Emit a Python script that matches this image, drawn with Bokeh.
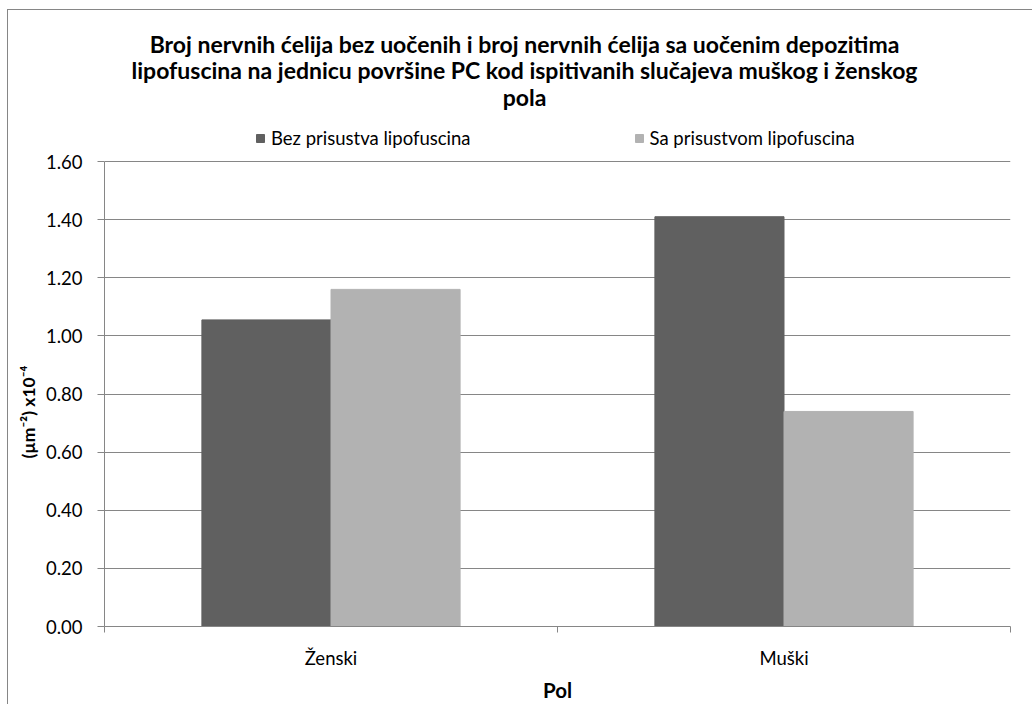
from bokeh.plotting import figure
from bokeh.models import (Range1d, FixedTicker, Legend, LegendItem, Label, Title,
                          ColumnDataSource, NumeralTickFormatter)
from bokeh.embed import file_html
from bokeh.resources import INLINE

# ---- data ----
categories = ["Ženski", "Muški"]
series_names = ["Bez prisustva lipofuscina", "Sa prisustvom lipofuscina"]
bez_values = [1.055, 1.41]
sa_values = [1.16, 0.74]
series_colors = ["#606060", "#b2b2b2"]
y_ticks = [0.0, 0.2, 0.4, 0.6, 0.8, 1.0, 1.2, 1.4, 1.6]
title_lines = [
    "Broj nervnih ćelija bez uočenih i broj nervnih ćelija sa uočenim depozitima",
    "lipofuscina na jednicu površine PC kod ispitivanih slučajeva muškog i ženskog",
    "pola",
]
x_title = "Pol"
y_title = "(µm⁻²) x10⁻⁴"

FONT = "Lato"
GRAY = "#868686"

W, H = 1032, 704
BOTTOM = 78          # space below the plot frame
PLOT_TOP = 161       # pixel row of the top of the value axis
frame_h = H - BOTTOM
y_end = y_ticks[-1] * frame_h / (frame_h - PLOT_TOP)

n = len(categories)
p = figure(width=W, height=H, output_backend="svg", toolbar_location=None,
           x_range=Range1d(0, n), y_range=Range1d(0, y_end),
           min_border_left=104, min_border_right=22, min_border_top=0,
           min_border_bottom=BOTTOM)
p.styles = {
    "background-color": "white",
    "background-image": "linear-gradient(#868686, #868686), linear-gradient(#868686, #868686)",
    "background-size": "1px 100%, 100% 1px",
    "background-position": "7px 9px, 7px 9px",
    "background-repeat": "no-repeat",
}
p.outline_line_color = None
p.background_fill_alpha = 0
p.border_fill_alpha = 0

bar_w = 0.285
centers = [i + 0.5 for i in range(n)]
src_a = ColumnDataSource(dict(x=[c - bar_w / 2 for c in centers], top=bez_values))
src_b = ColumnDataSource(dict(x=[c + bar_w / 2 for c in centers], top=sa_values))
ra = p.vbar(x="x", top="top", width=bar_w, source=src_a,
            fill_color=series_colors[0], line_color=series_colors[0])
rb = p.vbar(x="x", top="top", width=bar_w, source=src_b,
            fill_color=series_colors[1], line_color=series_colors[1])

# axes
xa = p.xaxis[0]
xa.ticker = FixedTicker(ticks=centers, minor_ticks=list(range(n + 1)))
xa.major_label_overrides = {c: cat for c, cat in zip(centers, categories)}
xa.major_tick_line_color = None
xa.minor_tick_line_color = GRAY
xa.minor_tick_in = 0
xa.minor_tick_out = 6
xa.axis_line_color = GRAY
xa.major_label_text_font = FONT
xa.major_label_text_font_size = "18.5px"
xa.major_label_text_color = "black"
xa.major_label_standoff = 14
xa.axis_label = x_title
xa.axis_label_text_font = FONT
xa.axis_label_text_font_style = "bold"
xa.axis_label_text_font_size = "20.5px"
xa.axis_label_text_color = "black"
xa.axis_label_standoff = 6

ya = p.yaxis[0]
ya.bounds = (0, y_ticks[-1])
ya.ticker = FixedTicker(ticks=y_ticks, minor_ticks=[])
ya.formatter = NumeralTickFormatter(format="0.00")
ya.major_tick_line_color = GRAY
ya.major_tick_in = 0
ya.major_tick_out = 7
ya.axis_line_color = GRAY
ya.major_label_text_font = FONT
ya.major_label_text_font_size = "18.5px"
ya.major_label_text_color = "black"
ya.major_label_standoff = 15

# value-axis title; its start is placed so it is centred on the value axis
p.add_layout(Title(text=y_title, align="left", offset=168,
                   standoff=7, text_font=FONT, text_font_style="bold",
                   text_font_size="17.5px", text_color="black"), "left")

p.xgrid.visible = False
p.ygrid.ticker = FixedTicker(ticks=y_ticks)
p.ygrid.grid_line_color = GRAY
p.ygrid.grid_line_width = 1

# legend inside the (tall) frame, above the value area
legend = Legend(items=[LegendItem(label=series_names[0], renderers=[ra]),
                       LegendItem(label=series_names[1], renderers=[rb])],
                orientation="horizontal", location=(151, frame_h - 149),
                glyph_width=10, glyph_height=10, label_standoff=6,
                label_height=20, label_text_font=FONT,
                label_text_font_size="18.5px", label_text_color="black",
                spacing=163, padding=0, margin=0,
                border_line_color=None, background_fill_alpha=0)
p.add_layout(legend)

# title lines (baselines in pixel rows from the top)
baselines = [43, 69.5, 96.5]
for line, b in zip(title_lines, baselines):
    p.add_layout(Label(x=420, y=frame_h - b, x_units="screen", y_units="screen",
                       text=line, text_align="center", text_baseline="alphabetic",
                       text_font=FONT, text_font_style="bold",
                       text_font_size="23px", text_color="black"))

open("out.html", "w").write(file_html(p, INLINE))
